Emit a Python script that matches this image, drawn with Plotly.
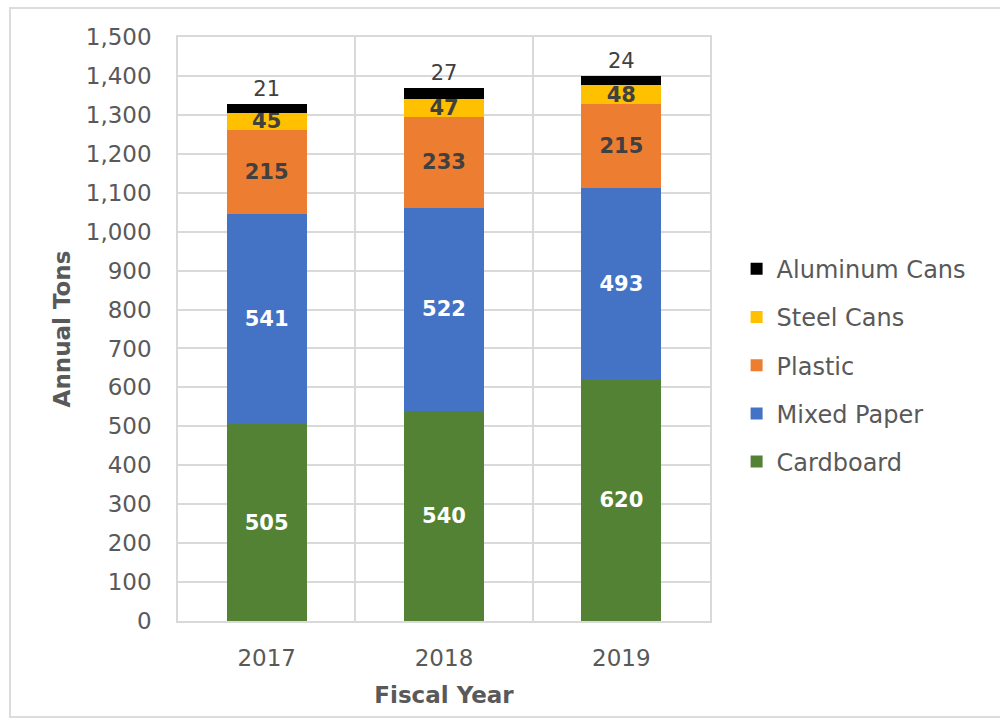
import plotly.graph_objects as go

# Recycled material totals by fiscal year (annual tons)
years = ["2017", "2018", "2019"]
cardboard = [505, 540, 620]
mixed_paper = [541, 522, 493]
plastic = [215, 233, 215]
steel_cans = [45, 47, 48]
aluminum_cans = [21, 27, 24]

y_ticks = list(range(0, 1501, 100))

FONT = "DejaVu Sans"
GRAY = "#595959"
DARK = "#404040"
GRID = "#D9D9D9"

# name, values, fill, label colour, label position, legend rank (top of legend first)
series = [
    ("Cardboard", cardboard, "#548235", "white", "inside", 5),
    ("Mixed Paper", mixed_paper, "#4472C4", "white", "inside", 4),
    ("Plastic", plastic, "#ED7D31", DARK, "inside", 3),
    ("Steel Cans", steel_cans, "#FFC000", DARK, "inside", 2),
    ("Aluminum Cans", aluminum_cans, "#000000", DARK, "outside", 1),
]

fig = go.Figure()
for name, vals, color, tcolor, tpos, rank in series:
    bold = tpos == "inside"
    fig.add_trace(go.Bar(
        name=name,
        x=years,
        y=vals,
        marker=dict(color=color, line=dict(width=0)),
        text=vals,
        texttemplate="<b>%{text}</b>" if bold else "%{text}",
        textposition=tpos,
        insidetextanchor="middle",
        textangle=0,
        textfont=dict(family=FONT, size=21, color=tcolor),
        outsidetextfont=dict(family=FONT, size=21, color=DARK),
        cliponaxis=False,
        legendgroup=name,
        legendrank=rank,
    ))

fig.update_layout(
    width=1000,
    height=721,
    barmode="stack",
    bargap=0.55,
    paper_bgcolor="white",
    plot_bgcolor="white",
    margin=dict(l=178, r=290, t=37, b=100),
    font=dict(family=FONT, color=GRAY),
    uniformtext=dict(mode="show", minsize=21),
    legend=dict(
        traceorder="grouped",
        x=1.05, xanchor="left",
        y=0.438, yanchor="middle",
        font=dict(family=FONT, size=24, color=GRAY),
        tracegroupgap=14,
        itemclick=False,
    ),
    xaxis=dict(
        type="category",
        tickson="boundaries",
        ticks="",
        showgrid=True,
        gridcolor=GRID,
        gridwidth=1.5,
        showline=True,
        linecolor=GRID,
        linewidth=1.5,
        mirror=True,
        ticklabelstandoff=16,
        tickfont=dict(family=FONT, size=23, color=GRAY),
        title=dict(text="<b>Fiscal Year</b>", font=dict(family=FONT, size=23, color=GRAY), standoff=17),
    ),
    yaxis=dict(
        range=[0, 1500],
        tickvals=y_ticks,
        tickformat=",d",
        showgrid=True,
        gridcolor=GRID,
        gridwidth=1.5,
        showline=True,
        linecolor=GRID,
        linewidth=1.5,
        mirror=True,
        zeroline=False,
        ticks="",
        ticklabelstandoff=20,
        tickfont=dict(family=FONT, size=23, color=GRAY),
        title=dict(text="<b>Annual Tons</b>", font=dict(family=FONT, size=23, color=GRAY), standoff=9),
    ),
)

# Light outer frame around the whole chart
fig.add_shape(
    type="rect", xref="paper", yref="paper",
    x0=(10 - 178) / 532, x1=(1010 - 178) / 532,
    y0=(621 - 717) / 584, y1=(621 - 8) / 584,
    line=dict(color="#DCDCDC", width=2),
    fillcolor="rgba(0,0,0,0)",
    layer="below",
)

fig.write_html("out.html")
